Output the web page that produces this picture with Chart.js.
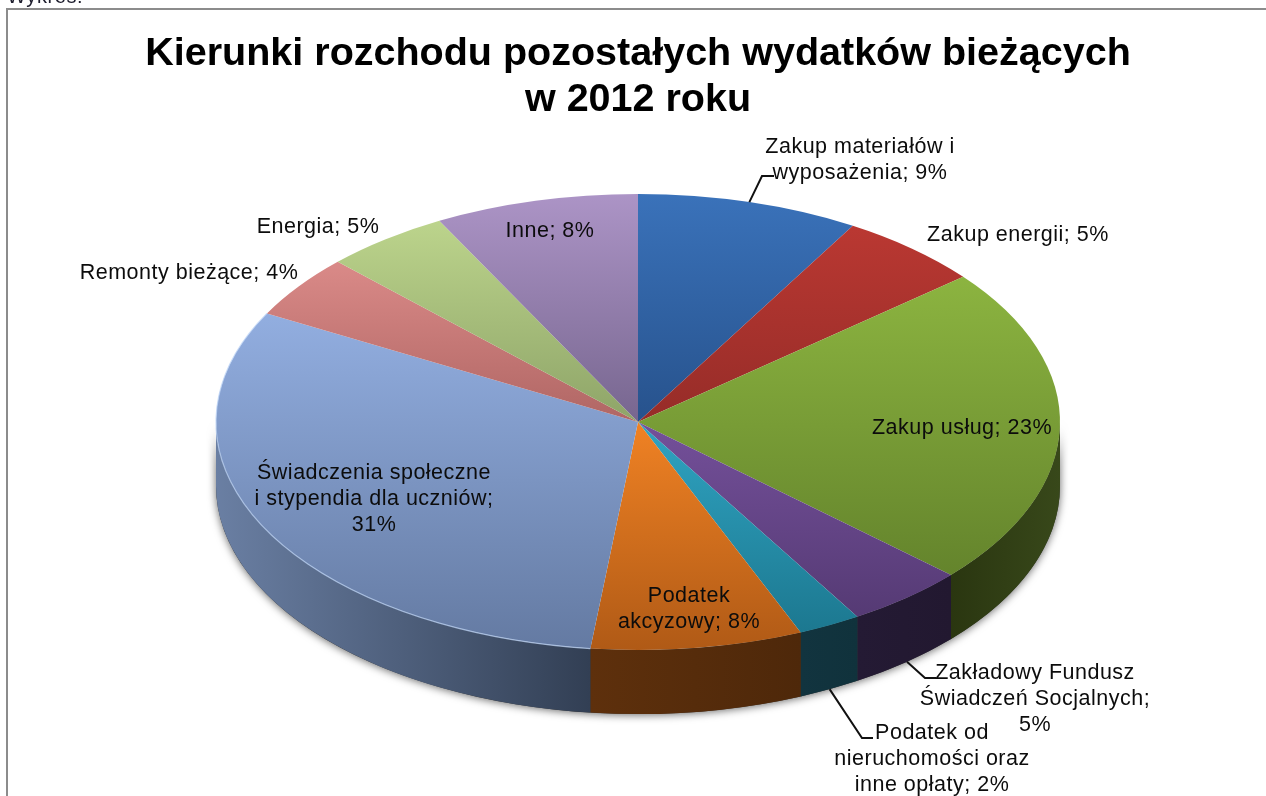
<!DOCTYPE html>
<html lang="pl">
<head>
<meta charset="utf-8">
<title>Kierunki rozchodu pozostałych wydatków bieżących w 2012 roku</title>
<script src="https://cdn.jsdelivr.net/npm/chart.js@4"></script>
<style>
html,body{margin:0;padding:0;background:#fff;overflow:hidden}
#wrap{position:relative;width:1266px;height:796px}
canvas{display:block;filter:blur(.45px)}
</style>
</head>
<body>
<div id="wrap"><canvas id="c" width="1266" height="796"></canvas></div>
<script>
const categories = ["Zakup materiałów i wyposażenia","Zakup energii","Zakup usług","Zakładowy Fundusz Świadczeń Socjalnych","Podatek od nieruchomości oraz inne opłaty","Podatek akcyzowy","Świadczenia społeczne i stypendia dla uczniów","Remonty bieżące","Energia","Inne"];
const sliceValues = [8.5,5.5,22.7,4.6,2.4,8.1,31.1,4.5,4.8,7.8];
const labelLines = [
  ["Zakup materiałów i","wyposażenia; 9%"],
  ["Zakup energii; 5%"],
  ["Zakup usług; 23%"],
  ["Zakładowy Fundusz","Świadczeń Socjalnych;","5%"],
  ["Podatek od","nieruchomości oraz","inne opłaty; 2%"],
  ["Podatek","akcyzowy; 8%"],
  ["Świadczenia społeczne","i stypendia dla uczniów;","31%"],
  ["Remonty bieżące; 4%"],
  ["Energia; 5%"],
  ["Inne; 8%"]
];
const titleLines = ["Kierunki rozchodu pozostałych wydatków bieżących","w 2012 roku"];

const topColors = ["#3a72ba","#ba3832","#8cb440","#74509a","#30a4c2","#f08224","#92aee0","#da8a88","#bcd48c","#ac94c6"];
const bottomColors = ["#27528c","#962c28","#64842c","#553a74","#1c7890","#b05a16","#647aa2","#b06664","#8ea468","#77668f"];
const sideLeft = ["#2c3c14","#2c3c14","#2a3610","#241a34","#12343f","#5e300c","#6a7fa3","#000","#000","#000"];
const sideRight = ["#2c3c14","#2c3c14","#38481a","#221830","#10323c","#4e280a","#323f54","#000","#000","#000"];

// label centre x and first-line baseline
const labelX = [860,1018,962,1035,932,689,374,189,318,550];
const labelY = [153,241,434,679,739,602,479,279,233,237];
const labelLeading = 26;
// leader elbow points: slice index, elbow, end
const leaders = [
  {slice:0, elbow:[762,176], end:[774,176]},
  {slice:3, elbow:[925,678], end:[936,678]},
  {slice:4, elbow:[862,738], end:[873,738]}
];

const squash = 0.5403, depth = 64, pieRadius = 422;

function sliceFill(c){
  const chart = c.chart, a = chart.chartArea;
  if(!a) return topColors[c.dataIndex];
  const total = sliceValues.reduce((s,v)=>s+v,0);
  let cum = 0;
  for(let i=0;i<c.dataIndex;i++) cum += sliceValues[i];
  const t0 = cum/total*2*Math.PI, t1 = (cum+sliceValues[c.dataIndex])/total*2*Math.PI;
  const ys = [0,-pieRadius*Math.cos(t0),-pieRadius*Math.cos(t1)];
  if(t0<=0) ys.push(-pieRadius);
  if(t0<=Math.PI && t1>=Math.PI) ys.push(pieRadius);
  const cy = (a.top+a.bottom)/2;
  const g = chart.ctx.createLinearGradient(0,cy+Math.min(...ys),0,cy+Math.max(...ys));
  g.addColorStop(0,topColors[c.dataIndex]);
  g.addColorStop(1,bottomColors[c.dataIndex]);
  return g;
}

const pie3d = {
  id:'pie3d',
  beforeDraw(chart){
    const x = chart.ctx;
    x.save();
    x.fillStyle='#fff'; x.fillRect(0,0,chart.width,chart.height);
    x.fillStyle='#8c8c8c';
    x.fillRect(6,8,1260,2);
    x.fillRect(6,8,2,788);
    x.fillStyle='#1c1c2c'; x.font='20px "Liberation Sans"'; x.letterSpacing='0.6px'; x.textAlign='left'; x.textBaseline='alphabetic';
    x.fillText('Wykres:',7,3);
    x.restore();
  },
  beforeDatasetsDraw(chart){
    const x = chart.ctx, arcs = chart.getDatasetMeta(0).data;
    const {x:cx,y:cy,outerRadius:R} = arcs[0], ry = R*squash;
    // soft shadow under the front wall
    x.save();
    x.shadowColor='rgba(0,0,0,.6)'; x.shadowBlur=9; x.shadowOffsetY=1;
    x.fillStyle='#333';
    x.beginPath();
    x.ellipse(cx,cy,R,ry,0,0,Math.PI);
    x.ellipse(cx,cy+depth,R,ry,0,Math.PI,0,true);
    x.closePath(); x.fill();
    x.restore();
    // front wall of every slice that faces the viewer
    arcs.forEach((arc,i)=>{
      const a0 = Math.max(arc.startAngle,0), a1 = Math.min(arc.endAngle,Math.PI);
      if(a1<=a0) return;
      const xa = cx+R*Math.cos(a0), xb = cx+R*Math.cos(a1);
      const g = x.createLinearGradient(Math.min(xa,xb),0,Math.max(xa,xb),0);
      g.addColorStop(0,sideLeft[i]); g.addColorStop(1,sideRight[i]);
      x.fillStyle=g;
      x.beginPath();
      x.ellipse(cx,cy,R,ry,0,a0,a1);
      x.ellipse(cx,cy+depth,R,ry,0,a1,a0,true);
      x.closePath(); x.fill();
    });
    // squash the library's arcs to the tilted ellipse
    x.save();
    x.translate(cx,cy); x.scale(1,squash); x.translate(-cx,-cy);
  },
  afterDatasetsDraw(chart){
    const x = chart.ctx, arcs = chart.getDatasetMeta(0).data;
    x.restore();
    const {x:cx,y:cy,outerRadius:R} = arcs[0], ry = R*squash;
    // light rim on the large blue slice
    const big = arcs[6];
    x.save();
    x.strokeStyle='rgba(190,212,245,.75)'; x.lineWidth=1.2;
    x.beginPath(); x.ellipse(cx,cy,R,ry,0,big.startAngle,Math.min(big.endAngle,Math.PI*1.18)); x.stroke();
    x.restore();
    // leaders
    x.save();
    x.strokeStyle='#111'; x.lineWidth=2;
    leaders.forEach(l=>{
      const a = arcs[l.slice], m = (a.startAngle+a.endAngle)/2;
      const sx = cx+R*Math.cos(m), sy = cy+ry*Math.sin(m)+(Math.sin(m)>0?depth:0);
      x.beginPath(); x.moveTo(sx,sy); x.lineTo(...l.elbow); x.lineTo(...l.end); x.stroke();
    });
    // labels
    x.fillStyle='#0c0c0c'; x.font='21.5px "Liberation Sans"'; x.letterSpacing='0.5px'; x.textAlign='center'; x.textBaseline='alphabetic';
    labelLines.forEach((lines,i)=>{
      lines.forEach((t,j)=>x.fillText(t,labelX[i],labelY[i]+j*labelLeading));
    });
    x.restore();
  }
};

new Chart(document.getElementById('c'),{
  type:'pie',
  data:{labels:categories,datasets:[{data:sliceValues,backgroundColor:sliceFill,borderWidth:0,radius:pieRadius,clip:false}]},
  plugins:[pie3d],
  options:{
    responsive:false,animation:false,events:[],
    layout:{padding:{left:10,right:0,top:0,bottom:82}},
    plugins:{
      legend:{display:false},tooltip:{enabled:false},
      title:{display:true,text:titleLines,color:'#000',
        font:{family:'"Liberation Sans"',size:39.5,weight:'bold',lineHeight:1.165},
        padding:{top:31,bottom:7}}
    }
  }
});
</script>
</body>
</html>
